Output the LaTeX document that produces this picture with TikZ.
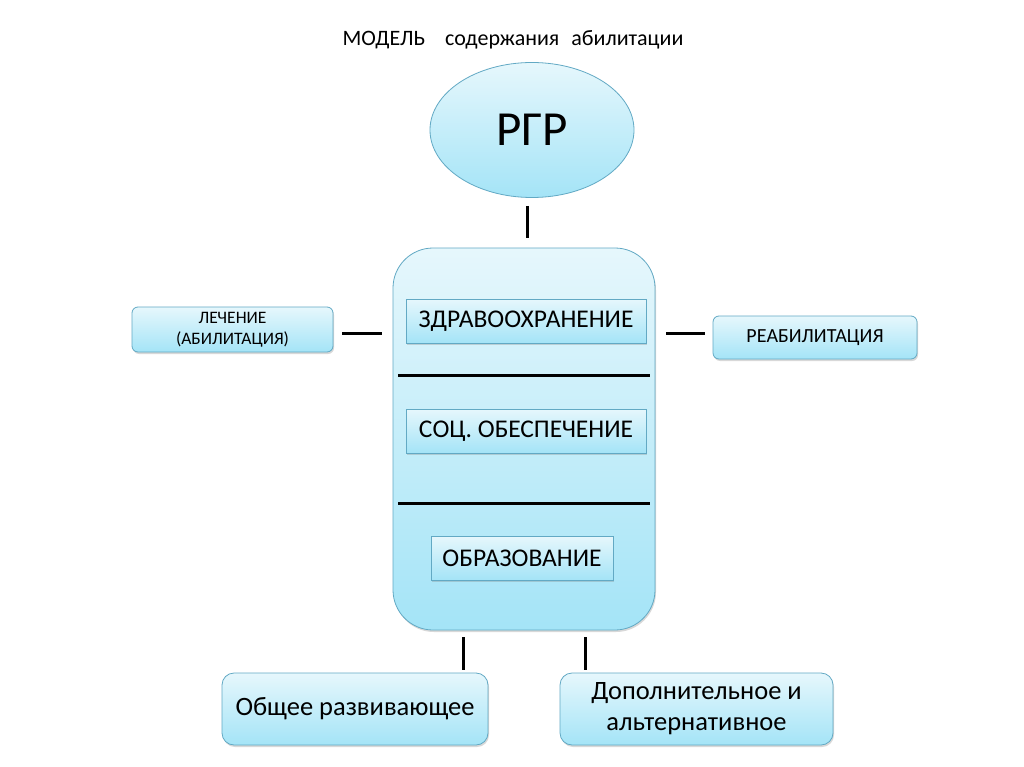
\documentclass[tikz,border=0pt]{standalone}
\usepackage{fontspec}
\setmainfont{Carlito}
\usetikzlibrary{shapes.geometric,shadows}

\definecolor{boxtop}{HTML}{E6F7FC}
\definecolor{boxbot}{HTML}{A4E4F7}
\definecolor{boxline}{HTML}{62A9C4}

\begin{document}
\begin{tikzpicture}[x=1pt, y=-1pt,
    box/.style={draw=boxline, line width=0.8pt, top color=boxtop, bottom color=boxbot,
      align=center, inner sep=0pt,
      drop shadow={opacity=0.3, shadow xshift=1pt, shadow yshift=-2pt}},
    smallbox/.style={box, rounded corners=6pt},
    subbox/.style={box, rounded corners=0pt, minimum height=44pt,
      font=\fontsize{25.5}{30}\selectfont},
    link/.style={line width=3pt},
    sep/.style={line width=3pt}]
  \fill[white] (0,0) rectangle (1024,767);
  \useasboundingbox (0,0) rectangle (1024,767);

  \node (title) at (513,40) {\fontsize{22}{26}\selectfont МОДЕЛЬ\hspace{20pt}содержания\hspace{12pt}абилитации};

  \node[ellipse, draw=boxline, line width=0.8pt, top color=boxtop, bottom color=boxbot,
    minimum width=204pt, minimum height=135pt, inner sep=0pt,
    font=\fontsize{49}{55}\selectfont] (rgr) at (532,130) {РГР};

  \node[box, rounded corners=40pt, minimum width=262pt, minimum height=382pt] (core) at (524,439) {};
  \node[subbox, minimum width=240pt] (zdrav) at (526,321) {ЗДРАВООХРАНЕНИЕ};
  \node[subbox, minimum width=240pt] (soc) at (526,431) {СОЦ. ОБЕСПЕЧЕНИЕ};
  \node[subbox, minimum width=182pt] (obr) at (522,558) {ОБРАЗОВАНИЕ};
  \draw[sep] (398,375) -- (650,375);
  \draw[sep] (398,503) -- (650,503);

  \node[smallbox, minimum width=201pt, minimum height=45pt,
    font=\fontsize{17.5}{21}\selectfont] (lech) at (232.5,329.5) {ЛЕЧЕНИЕ\\(АБИЛИТАЦИЯ)};
  \node[smallbox, minimum width=204pt, minimum height=43pt,
    font=\fontsize{20}{24}\selectfont] (reab) at (815,337.5) {РЕАБИЛИТАЦИЯ};

  \node[smallbox, rounded corners=12pt, minimum width=266pt, minimum height=72pt,
    font=\fontsize{26.5}{31}\selectfont] (obsh) at (355,709) {Общее развивающее};
  \node[smallbox, rounded corners=12pt, minimum width=273pt, minimum height=72pt,
    font=\fontsize{26.5}{31}\selectfont] (dop) at (696.5,709) {Дополнительное и\\альтернативное};

  \draw[link, shorten <=8pt, shorten >=10pt] ([xshift=-5pt]rgr.south) -- ([xshift=-5pt]rgr.south |- core.north);
  \draw[link, shorten <=9pt, shorten >=11pt] ([yshift=-3.5pt]lech.east) -- ([yshift=-3.5pt]lech.east -| core.west);
  \draw[link, shorten <=11pt, shorten >=8pt] ([yshift=4.5pt]reab.west -| core.east) -- ([yshift=4.5pt]reab.west);
  \draw[link, shorten <=7pt, shorten >=3pt] ([xshift=-61pt]core.south) -- ([xshift=-61pt]core.south |- obsh.north);
  \draw[link, shorten <=7pt, shorten >=3pt] ([xshift=61pt]core.south) -- ([xshift=61pt]core.south |- dop.north);
\end{tikzpicture}
\end{document}
